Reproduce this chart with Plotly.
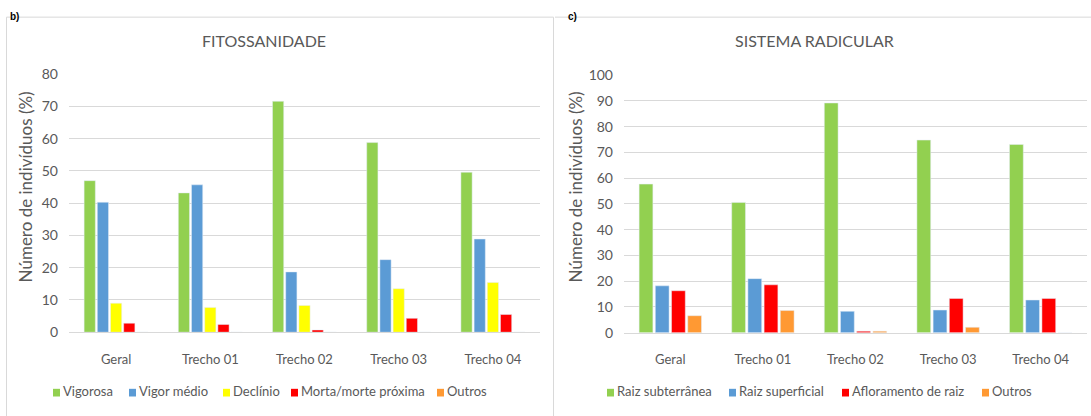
import plotly.graph_objects as go

# ---- data -------------------------------------------------------------
categories = ["Geral", "Trecho 01", "Trecho 02", "Trecho 03", "Trecho 04"]

# Fitossanidade (% of individuals)
fito_names = ["Vigorosa", "Vigor médio", "Declínio", "Morta/morte próxima", "Outros"]
vigorosa = [47.0, 43.2, 71.6, 58.8, 49.6]
vigor_medio = [40.3, 45.7, 18.7, 22.5, 28.9]
declinio = [9.0, 7.7, 8.3, 13.5, 15.4]
morta = [2.8, 2.4, 0.7, 4.3, 5.5]
fito_outros = [0, 0, 0, 0, 0]

# Sistema radicular (% of individuals)
raiz_names = ["Raiz subterrânea", "Raiz superficial", "Afloramento de raiz", "Outros"]
raiz_subterranea = [57.7, 50.6, 89.2, 74.8, 73.1]
raiz_superficial = [18.2, 21.0, 8.3, 8.8, 12.7]
afloramento = [16.3, 18.6, 0.6, 13.3, 13.3]
raiz_outros = [6.6, 8.6, 0.6, 2.1, 0.0]

# ---- styling ----------------------------------------------------------
W, H = 1091, 416
GREEN, BLUE, YELLOW, RED, ORANGE = "#92D050", "#5B9BD5", "#FFFF00", "#FF0000", "#FF9933"
GRID = "#D9D9D9"
TXT = "#595959"
FONT = "Lato"

fito_series = [vigorosa, vigor_medio, declinio, morta, fito_outros]
fito_colors = [GREEN, BLUE, YELLOW, RED, ORANGE]
raiz_series = [raiz_subterranea, raiz_superficial, afloramento, raiz_outros]
raiz_colors = [GREEN, BLUE, RED, ORANGE]


def px(x):
    return x / W


def py(y):
    return 1 - y / H


fig = go.Figure()

for name, vals, col in zip(fito_names, fito_series, fito_colors):
    fig.add_trace(go.Bar(x=categories, y=vals, name=name, marker_color=col,
                         xaxis="x", yaxis="y", showlegend=False))

for name, vals, col in zip(raiz_names, raiz_series, raiz_colors):
    fig.add_trace(go.Bar(x=categories, y=vals, name=name, marker_color=col,
                         xaxis="x2", yaxis="y2", showlegend=False))

xaxis_common = dict(type="category", showgrid=False, showline=True, linecolor=GRID,
                    linewidth=1, ticks="", tickfont=dict(family=FONT, size=13, color=TXT),
                    ticklabelstandoff=15, fixedrange=True)
yaxis_common = dict(showgrid=True, gridcolor=GRID, gridwidth=1, zeroline=False,
                    showline=False, ticks="", dtick=10,
                    tickfont=dict(family=FONT, size=14, color=TXT),
                    ticklabelstandoff=10, fixedrange=True)

fig.update_layout(
    width=W, height=H, autosize=False,
    margin=dict(l=0, r=0, t=0, b=0),
    paper_bgcolor="white", plot_bgcolor="white",
    barmode="group", bargap=0.30, bargroupgap=0.15,
    xaxis=dict(domain=[px(69), px(540)], anchor="y", **xaxis_common),
    yaxis=dict(domain=[py(337), py(68)], range=[0, 80], anchor="x", **yaxis_common),
    xaxis2=dict(domain=[px(624), px(1087)], anchor="y2", **xaxis_common),
    yaxis2=dict(domain=[py(337.5), py(69)], range=[0, 100], anchor="x2", **yaxis_common),
)

shapes = []
annotations = []

# chart-area frames
shapes.append(dict(type="path", xref="paper", yref="paper",
                   path=f"M {px(6.5)} {py(430)} L {px(6.5)} {py(8.5)} L {px(553.5)} {py(8.5)} L {px(553.5)} {py(430)}",
                   line=dict(color=GRID, width=1)))
shapes.append(dict(type="line", xref="paper", yref="paper",
                   x0=px(555), x1=px(1095), y0=py(8.5), y1=py(8.5),
                   line=dict(color=GRID, width=1)))

# panel titles
for text, cx in [("FITOSSANIDADE", 264), ("SISTEMA RADICULAR", 814)]:
    annotations.append(dict(text=text, x=px(cx), y=py(33), xref="paper", yref="paper",
                            xanchor="center", yanchor="middle", showarrow=False,
                            font=dict(family=FONT, size=16, color=TXT)))

# y-axis titles
for cx in [25, 575]:
    annotations.append(dict(text="Número de indivíduos (%)", x=px(cx), y=py(186),
                            xref="paper", yref="paper", textangle=-90,
                            xanchor="center", yanchor="middle", showarrow=False,
                            font=dict(family=FONT, size=17, color=TXT)))

# panel letters along the top edge
for text, lx in [("b)", 8), ("c)", 566)]:
    annotations.append(dict(text=f"<b>{text}</b>", x=px(lx), y=1, xref="paper", yref="paper",
                            xanchor="left", yanchor="top", showarrow=False,
                            font=dict(family="Liberation Sans", size=10, color="#000000")))

# legends: key square + label for each series
fito_key_x = [53, 129, 223, 291, 437]
raiz_key_x = [607, 729, 842, 982]
for names, colors, keys in [(fito_names, fito_colors, fito_key_x),
                            (raiz_names, raiz_colors, raiz_key_x)]:
    for name, col, kx in zip(names, colors, keys):
        shapes.append(dict(type="rect", xref="paper", yref="paper",
                           x0=px(kx), x1=px(kx + 7), y0=py(404), y1=py(396),
                           fillcolor=col, line=dict(width=0)))
        annotations.append(dict(text=name, x=px(kx + 8), y=py(398), xref="paper", yref="paper",
                                xanchor="left", yanchor="middle", showarrow=False,
                                font=dict(family=FONT, size=13, color=TXT)))

fig.update_layout(shapes=shapes, annotations=annotations)

# keep the figure flush with the page corner
fig.write_html("out.html", config=dict(displayModeBar=False),
               post_script="document.body.style.margin='0';")
